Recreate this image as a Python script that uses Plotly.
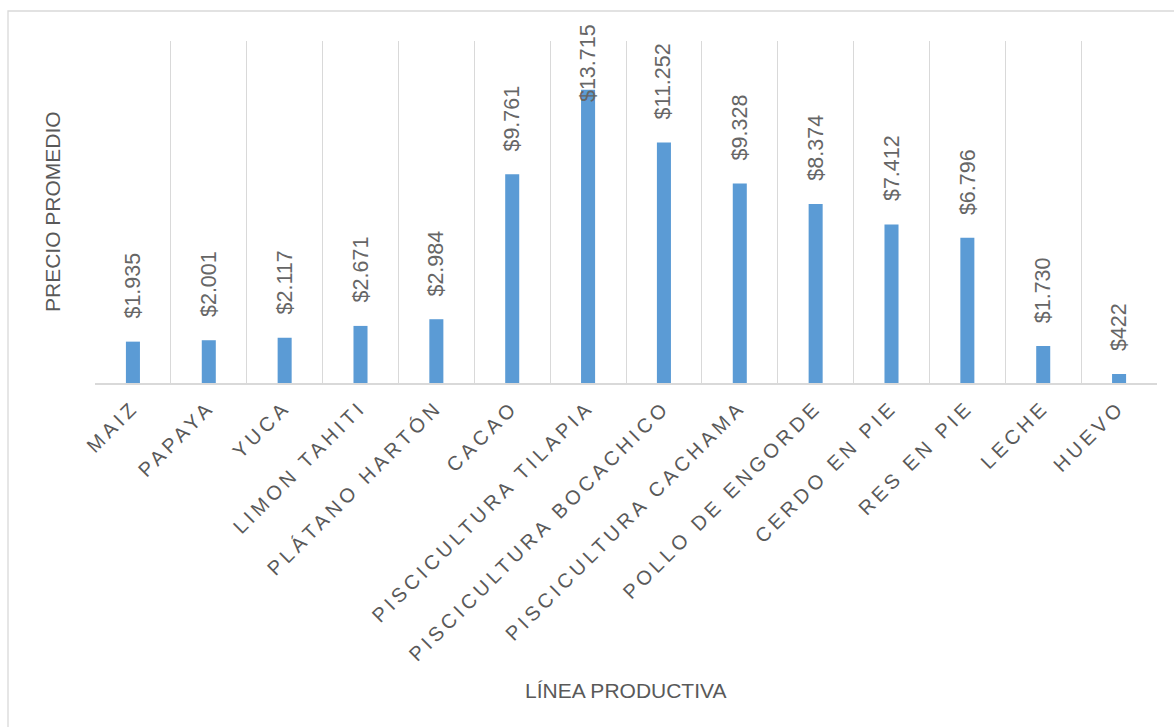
import plotly.graph_objects as go

categories = ["MAIZ", "PAPAYA", "YUCA", "LIMON TAHITI", "PLÁTANO HARTÓN", "CACAO",
              "PISCICULTURA TILAPIA", "PISCICULTURA BOCACHICO", "PISCICULTURA CACHAMA",
              "POLLO DE ENGORDE", "CERDO EN PIE", "RES EN PIE", "LECHE", "HUEVO"]
precios = [1935, 2001, 2117, 2671, 2984, 9761, 13715, 11252, 9328, 8374, 7412, 6796, 1730, 422]

x_title = "LÍNEA PRODUCTIVA"
y_title = "PRECIO PROMEDIO"

W, H = 1174, 727
L, R, T, B = 95, 17, 41, 344
YMAX = 16000
plot_h = H - T - B
plot_w = W - L - R

TXT = "#595959"
LBL = "#666666"
FONT = "Liberation Sans, Arial, sans-serif"
BAR = "#5B9BD5"
GRID = "#D9D9D9"

def fmt(v):
    return "$" + f"{v:,}".replace(",", ".")

labels = [fmt(v) for v in precios]
ticktext = [f'<span style="letter-spacing:4px">{c}</span>' for c in categories]

fig = go.Figure()
fig.add_trace(go.Bar(x=categories, y=precios, marker=dict(color=BAR, line=dict(width=0)),
                     hoverinfo="x+y"))

# data labels (rotated), clamped at top of chart area like the original
annotations = []
gap = 21
top_limit_px = 22
for c, v, t in zip(categories, precios, labels):
    bar_top_px = T + plot_h * (1 - v / YMAX)
    est_len = 10.9 * len(t)
    if bar_top_px - gap - est_len < top_limit_px:
        annotations.append(dict(x=c, xref="x", y=(H - B - top_limit_px) / plot_h, yref="paper",
                                yanchor="top", text=t, textangle=-90, showarrow=False,
                                font=dict(family=FONT, size=21.5, color=LBL)))
    else:
        annotations.append(dict(x=c, xref="x", y=v, yref="y", yanchor="bottom", yshift=gap,
                                text=t, textangle=-90, showarrow=False,
                                font=dict(family=FONT, size=21.5, color=LBL)))

annotations.append(dict(x=0.5, xref="paper", y=(H - B - 690) / plot_h, yref="paper",
                        text=x_title, showarrow=False, xanchor="center", yanchor="middle",
                        font=dict(family=FONT, size=21, color=TXT)))
annotations.append(dict(x=(52 - L) / plot_w, xref="paper", y=0.5, yref="paper",
                        text=y_title, showarrow=False, textangle=-90, xanchor="center",
                        yanchor="middle", font=dict(family=FONT, size=21, color=TXT)))

fig.update_layout(
    width=W, height=H,
    margin=dict(l=L, r=R, t=T, b=B, autoexpand=False),
    paper_bgcolor="white", plot_bgcolor="white",
    bargap=0.815,
    showlegend=False,
    annotations=annotations,
    shapes=[dict(type="rect", xref="paper", yref="paper",
                 x0=(8 - L) / plot_w, x1=1.2, y0=-2, y1=(H - B - 11) / plot_h,
                 line=dict(color=GRID, width=1.3), fillcolor="rgba(0,0,0,0)", layer="below")],
    xaxis=dict(
        type="category", tickmode="array", tickvals=categories, ticktext=ticktext,
        tickangle=-45, tickson="boundaries", ticks="",
        showgrid=True, gridcolor=GRID, gridwidth=1,
        showline=True, linecolor=GRID, linewidth=1.5,
        tickfont=dict(family=FONT, size=20, color=TXT),
        ticklabelstandoff=3,
    ),
    yaxis=dict(range=[0, YMAX], showgrid=False, showticklabels=False, zeroline=False,
               showline=False, ticks=""),
)

fig.write_html("out.html")
